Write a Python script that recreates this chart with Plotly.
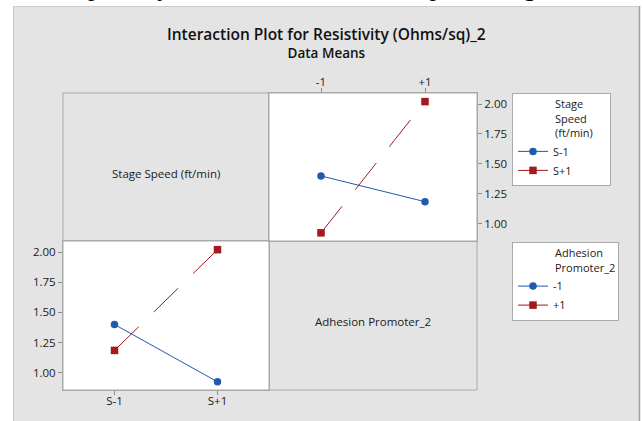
import plotly.graph_objects as go

W, H = 643, 421

# ---- data ----
speed_levels = ["S-1", "S+1"]          # Stage Speed (ft/min)
adhesion_levels = ["-1", "+1"]          # Adhesion Promoter_2
# mean resistivity for each stage speed, at adhesion -1 / +1
mean_speed_minus = [1.40, 1.185]
mean_speed_plus = [0.925, 2.02]
y_ticks = [1.00, 1.25, 1.50, 1.75, 2.00]
y_range = [0.857, 2.092]

BLUE = "#1F5BAA"
RED = "#A3191C"
FONT = "Open Sans"
TXT = "#1a1a1a"
AX_LINE = "#A9A9A9"
BG = "#E4E4E4"


def px(x):
    return x / W


def py(y):
    return 1 - y / H


fig = go.Figure()

# top-right panel: x = adhesion promoter, lines = stage speed
fig.add_trace(go.Scatter(
    x=adhesion_levels, y=mean_speed_minus, xaxis="x2", yaxis="y2",
    name="S-1", legend="legend", mode="lines+markers",
    line=dict(color=BLUE, width=1),
    marker=dict(symbol="circle", size=7.5, color=BLUE)))
fig.add_trace(go.Scatter(
    x=adhesion_levels, y=mean_speed_plus, xaxis="x2", yaxis="y2",
    name="S+1", legend="legend", mode="lines+markers",
    line=dict(color=RED, width=1, dash="34px,21px"),
    marker=dict(symbol="square", size=7.5, color=RED)))

# bottom-left panel: x = stage speed, lines = adhesion promoter
fig.add_trace(go.Scatter(
    x=speed_levels, y=[mean_speed_minus[0], mean_speed_plus[0]],
    xaxis="x", yaxis="y", name="-1", legend="legend2", mode="lines+markers",
    line=dict(color=BLUE, width=1),
    marker=dict(symbol="circle", size=7.5, color=BLUE)))
fig.add_trace(go.Scatter(
    x=speed_levels, y=[mean_speed_minus[1], mean_speed_plus[1]],
    xaxis="x", yaxis="y", name="+1", legend="legend2", mode="lines+markers",
    line=dict(color=RED, width=1, dash="34px,21px"),
    marker=dict(symbol="square", size=7.5, color=RED)))

axis_common = dict(
    showgrid=False, zeroline=False, showline=True, mirror=True,
    linecolor=AX_LINE, linewidth=1, ticks="outside", ticklen=4,
    tickcolor="#8C8C8C", tickfont=dict(family=FONT, size=11.5, color=TXT),
    fixedrange=True)
ytick_text = [f"{v:.2f}" for v in y_ticks]

fig.update_layout(
    xaxis=dict(axis_common, domain=[px(63), px(269)], anchor="y",
               type="category", categoryorder="array",
               categoryarray=speed_levels, range=[-0.5, 1.5],
               ticklabelstandoff=-4),
    yaxis=dict(axis_common, domain=[py(390), py(241)], anchor="x",
               range=y_range, tickmode="array", tickvals=y_ticks,
               ticktext=ytick_text),
    xaxis2=dict(axis_common, domain=[px(269), px(477)], anchor="y2",
                side="top", type="category", categoryorder="array",
                categoryarray=adhesion_levels, range=[-0.5, 1.5],
                ticklabelstandoff=-3),
    yaxis2=dict(axis_common, domain=[py(241), py(93)], anchor="x2",
                side="right", range=y_range, tickmode="array",
                tickvals=y_ticks, ticktext=ytick_text),
)

ind = "\u00a0" * 14
legend_common = dict(
    xanchor="left", yanchor="top", bgcolor="white", bordercolor=AX_LINE,
    borderwidth=1, font=dict(family=FONT, size=11, color=TXT),
    tracegroupgap=0, itemclick=False, itemdoubleclick=False)
fig.update_layout(
    legend=dict(legend_common, x=px(512), y=py(93),
                title=dict(text=f"{ind}Stage<br>{ind}Speed<br>{ind}(ft/min)" + "\u00a0" * 5,
                           font=dict(family=FONT, size=11, color=TXT))),
    legend2=dict(legend_common, x=px(512), y=py(242),
                 title=dict(text=f"{ind}Adhesion<br>{ind}Promoter_2",
                            font=dict(family=FONT, size=11, color=TXT))),
)

shapes = [
    # white page around the grey chart window
    dict(type="rect", xref="paper", yref="paper", x0=0, x1=1, y0=py(6), y1=1,
         fillcolor="white", line=dict(width=0), layer="below"),
    dict(type="rect", xref="paper", yref="paper", x0=0, x1=px(13), y0=0, y1=1,
         fillcolor="white", line=dict(width=0), layer="below"),
    dict(type="rect", xref="paper", yref="paper", x0=px(640), x1=1, y0=0, y1=1,
         fillcolor="white", line=dict(width=0), layer="below"),
    dict(type="line", xref="paper", yref="paper", x0=px(13.5), x1=px(13.5),
         y0=0, y1=py(6), line=dict(color="#C6C6C6", width=1)),
    dict(type="line", xref="paper", yref="paper", x0=px(13), x1=px(640),
         y0=py(6.5), y1=py(6.5), line=dict(color="#CDCDCD", width=1)),
    dict(type="line", xref="paper", yref="paper", x0=px(639.5), x1=px(639.5),
         y0=0, y1=py(6), line=dict(color="#A0A0A0", width=1.5)),
    # matrix frame
    dict(type="rect", xref="paper", yref="paper", x0=px(63), x1=px(477),
         y0=py(390), y1=py(93), line=dict(color=AX_LINE, width=1), layer="above"),
    dict(type="line", xref="paper", yref="paper", x0=px(269), x1=px(269),
         y0=py(390), y1=py(93), line=dict(color=AX_LINE, width=1), layer="above"),
    dict(type="line", xref="paper", yref="paper", x0=px(63), x1=px(477),
         y0=py(241), y1=py(241), line=dict(color=AX_LINE, width=1), layer="above"),
]

annotations = [
    # bottom edge of the surrounding document text, cut off by the page edge
    dict(text="temporarily removed, an interaction plot was generated,",
         x=px(633), y=py(4), xanchor="right", yanchor="bottom",
         font=dict(family="Liberation Serif", size=26, color="black")),
    dict(text="<span style='font-size:15.5px'>Interaction Plot for Resistivity (Ohms/sq)_2</span>"
              "<br>Data Means",
         x=px(326.5), y=py(42), xanchor="center", yanchor="middle",
         font=dict(family=FONT, size=13.5, color="#111", weight=600)),
    dict(text="Stage Speed (ft/min)", x=px(166), y=py(173), xanchor="center",
         yanchor="middle", font=dict(family=FONT, size=11.5, color=TXT)),
    dict(text="Adhesion Promoter_2", x=px(373), y=py(321.5), xanchor="center",
         yanchor="middle", font=dict(family=FONT, size=11.5, color=TXT)),
]
for a in annotations:
    a.update(xref="paper", yref="paper", showarrow=False)

fig.update_layout(
    width=W, height=H, autosize=False,
    margin=dict(l=0, r=0, t=0, b=0, pad=0, autoexpand=False),
    paper_bgcolor=BG, plot_bgcolor="white",
    shapes=shapes, annotations=annotations,
    font=dict(family=FONT, size=11, color=TXT),
    showlegend=True,
)

fig.write_html("out.html", config={"displayModeBar": False, "staticPlot": True})
